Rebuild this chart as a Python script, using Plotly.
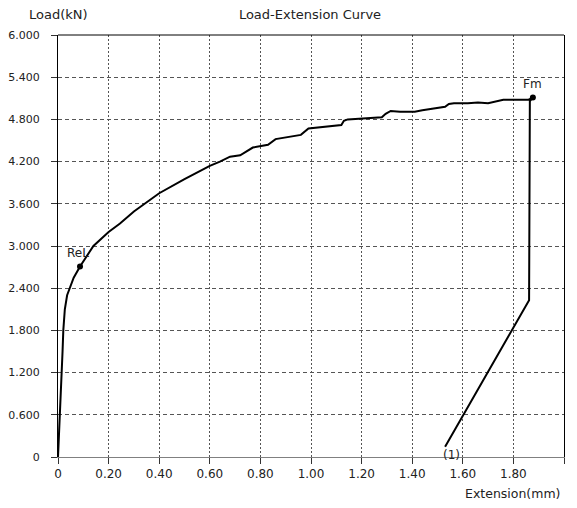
import plotly.graph_objects as go

# Load-extension curve (mm, kN)
extension = [0, 0.004, 0.008, 0.012, 0.015, 0.018, 0.021, 0.027, 0.036, 0.047, 0.062, 0.087,
             0.113, 0.14, 0.2, 0.245, 0.3, 0.344, 0.4, 0.5, 0.6, 0.64, 0.68, 0.72, 0.745, 0.77,
             0.83, 0.845, 0.86, 0.96, 0.975, 0.99, 1.12, 1.13, 1.145, 1.28, 1.295, 1.315,
             1.352, 1.41, 1.44, 1.5, 1.53, 1.545, 1.565, 1.62, 1.66, 1.7, 1.74, 1.76, 1.86,
             1.877, 1.865, 1.862, 1.53]
load = [0, 0.3, 0.6, 0.9, 1.2, 1.5, 1.8, 2.1, 2.3, 2.4, 2.55, 2.71,
        2.85, 3.0, 3.2, 3.32, 3.49, 3.6, 3.75, 3.95, 4.14, 4.2, 4.27, 4.29, 4.35, 4.40,
        4.44, 4.48, 4.52, 4.58, 4.62, 4.67, 4.72, 4.78, 4.80, 4.83, 4.88, 4.92,
        4.91, 4.91, 4.93, 4.96, 4.98, 5.02, 5.03, 5.03, 5.04, 5.03, 5.06, 5.08, 5.08,
        5.11, 5.06, 2.23, 0.146]

# Marked points
point_names = ["ReL", "Fm"]
point_ext = [0.087, 1.877]
point_load = [2.71, 5.11]

x_ticks = [0, 0.2, 0.4, 0.6, 0.8, 1.0, 1.2, 1.4, 1.6, 1.8, 2.0]
x_tick_labels = ["0", "0.20", "0.40", "0.60", "0.80", "1.00", "1.20", "1.40", "1.60", "1.80", "2.00"]
y_ticks = [0, 0.6, 1.2, 1.8, 2.4, 3.0, 3.6, 4.2, 4.8, 5.4, 6.0]
y_tick_labels = ["0", "0.600", "1.200", "1.800", "2.400", "3.000", "3.600", "4.200", "4.800", "5.400", "6.000"]

FONT = "DejaVu Sans"
W, H = 561, 492  # page body has an 8px margin

fig = go.Figure()
fig.add_trace(go.Scatter(x=extension, y=load, mode="lines",
                         line=dict(color="black", width=2), showlegend=False,
                         hoverinfo="skip"))
fig.add_trace(go.Scatter(x=point_ext, y=point_load, mode="markers",
                         marker=dict(color="black", size=6), showlegend=False,
                         hoverinfo="skip"))

# point labels
fig.add_annotation(x=0.079, y=2.90, text=point_names[0], showarrow=False,
                   font=dict(family=FONT, size=12, color="#222"))
fig.add_annotation(x=1.875, y=5.30, text=point_names[1], showarrow=False,
                   font=dict(family=FONT, size=12, color="#222"))
fig.add_annotation(x=1.557, y=0.03, text="(1)", showarrow=False,
                   font=dict(family=FONT, size=12, color="#222"))

# axis titles
fig.add_annotation(xref="paper", yref="paper", x=0, y=1, xanchor="center",
                   yanchor="middle", yshift=21, text="Load(kN)", showarrow=False,
                   font=dict(family=FONT, size=13, color="#222"))
fig.add_annotation(xref="paper", yref="paper", x=1, y=0, xanchor="right",
                   yanchor="middle", xshift=-2, yshift=-36, text="Extension(mm)",
                   showarrow=False, font=dict(family=FONT, size=12.5, color="#222"))

# top frame line
fig.add_shape(type="line", xref="paper", yref="paper", x0=0, x1=1, y0=1, y1=1,
              line=dict(color="black", width=1))

fig.update_layout(
    width=W, height=H,
    margin=dict(l=50, r=5, t=27, b=43, autoexpand=False),
    paper_bgcolor="white", plot_bgcolor="white",
    title=dict(text="Load-Extension Curve", x=302 / W, xanchor="center",
               y=1 - 6 / H, yanchor="middle", automargin=False,
               font=dict(family=FONT, size=13, color="#222")),
    xaxis=dict(range=[0, 2.0], tickvals=x_ticks, ticktext=x_tick_labels,
               automargin=False,
               showgrid=True, gridcolor="#555", griddash="2px,2px", gridwidth=1,
               zeroline=False, showline=True, linecolor="#808080", linewidth=1,
               ticks="outside", ticklen=6, tickcolor="#333",
               tickfont=dict(family=FONT, size=12, color="#222")),
    yaxis=dict(range=[0, 6.0], tickvals=y_ticks, ticktext=y_tick_labels,
               automargin=False,
               showgrid=True, gridcolor="#555", griddash="4px,3px", gridwidth=1,
               zeroline=False, showline=True, linecolor="black", linewidth=1,
               mirror=True, ticks="outside", ticklen=6, tickcolor="#333",
               ticklabelstandoff=9,
               tickfont=dict(family=FONT, size=11, color="#222")),
)

fig.write_html("out.html")
